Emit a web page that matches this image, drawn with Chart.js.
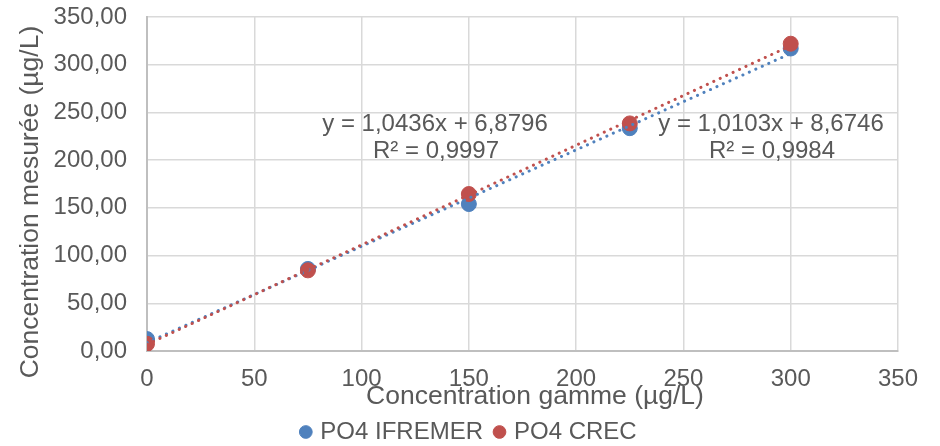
<!DOCTYPE html>
<html>
<head>
<meta charset="utf-8">
<script src="https://cdn.jsdelivr.net/npm/chart.js@4"></script>
<style>
  html, body { margin: 0; padding: 0; background: #fff; }
  #wrap { width: 940px; height: 446px; }
</style>
</head>
<body>
<div id="wrap"><canvas id="chart"></canvas></div>
<script>
// values
const gamme = [0, 75, 150, 225, 300];
const ifremer = [12.5, 86, 154, 233.5, 317];
const crec = [7.5, 84.5, 164.5, 238.5, 322];
const xTicks = [0, 50, 100, 150, 200, 250, 300, 350];
const yTicks = [0, 50, 100, 150, 200, 250, 300, 350];

// trendline coefficients shown in the chart
const trendIfremer = { a: 1.0103, b: 8.6746, r2: 0.9984 };
const trendCrec = { a: 1.0436, b: 6.8796, r2: 0.9997 };

const BLUE = '#4F81BD';
const RED = '#C0504D';
const TEXT = '#595959';
const FONT = '"Liberation Sans", Arial, sans-serif';

function fr(v, d) { return v.toFixed(d).replace('.', ','); }
function pts(xs, ys) { return xs.map((x, i) => ({ x: x, y: ys[i] })); }
function trend(t) {
    const x0 = gamme[0], x1 = gamme[gamme.length - 1];
    return [{ x: x0, y: t.a * x0 + t.b }, { x: x1, y: t.a * x1 + t.b }];
}

// axis titles + trendline equations, positioned like the Excel chart
const labelsPlugin = {
    id: 'excelLabels',
    afterDraw(chart) {
        const c = chart.ctx;
        c.save();
        c.fillStyle = TEXT;
        c.textAlign = 'center';
        c.textBaseline = 'middle';
        c.font = '26.5px ' + FONT;
        c.fillText('Concentration gamme (µg/L)', 535, 397);
        c.save();
        c.translate(31, 202);
        c.rotate(-Math.PI / 2);
        c.fillText('Concentration mesurée (µg/L)', 0, 0);
        c.restore();
        c.font = '24px ' + FONT;
        c.fillText('y = ' + fr(trendCrec.a, 4) + 'x + ' + fr(trendCrec.b, 4), 435, 124);
        c.fillText('R² = ' + fr(trendCrec.r2, 4), 436, 151);
        c.fillText('y = ' + fr(trendIfremer.a, 4) + 'x + ' + fr(trendIfremer.b, 4), 771, 124);
        c.fillText('R² = ' + fr(trendIfremer.r2, 4), 772, 151);
        c.restore();
    }
};

new Chart(document.getElementById('chart'), {
    type: 'scatter',
    data: {
        datasets: [
            {
                label: 'PO4 IFREMER',
                data: pts(gamme, ifremer),
                backgroundColor: BLUE,
                borderColor: BLUE,
                pointRadius: 7.5,
                pointHoverRadius: 7.5,
                order: 3
            },
            {
                label: 'PO4 CREC',
                data: pts(gamme, crec),
                backgroundColor: RED,
                borderColor: RED,
                pointRadius: 7.5,
                pointHoverRadius: 7.5,
                order: 2
            },
            {
                label: 'trend IFREMER',
                type: 'line',
                data: trend(trendIfremer),
                borderColor: BLUE,
                borderWidth: 3,
                borderDash: [0.1, 7],
                borderCapStyle: 'round',
                pointRadius: 0,
                fill: false,
                order: 1
            },
            {
                label: 'trend CREC',
                type: 'line',
                data: trend(trendCrec),
                borderColor: RED,
                borderWidth: 3,
                borderDash: [0.1, 7],
                borderCapStyle: 'round',
                pointRadius: 0,
                fill: false,
                order: 0
            }
        ]
    },
    options: {
        responsive: true,
        maintainAspectRatio: false,
        animation: false,
        layout: { padding: { top: 17, right: 0, left: 0, bottom: -8 } },
        plugins: {
            tooltip: { enabled: false },
            legend: {
                position: 'bottom',
                labels: {
                    filter: (item) => item.text.indexOf('trend') !== 0,
                    sort: (a, b) => a.datasetIndex - b.datasetIndex,
                    usePointStyle: true,
                    pointStyle: 'circle',
                    boxWidth: 5,
                    boxHeight: 9,
                    padding: 14,
                    color: TEXT,
                    font: { family: FONT, size: 24 }
                }
            }
        },
        scales: {
            x: {
                type: 'linear',
                min: xTicks[0],
                max: xTicks[xTicks.length - 1],
                afterBuildTicks: (s) => { s.ticks = xTicks.map(v => ({ value: v })); },
                afterFit: (s) => { s.height = 55; s.paddingRight = 42; s.paddingLeft = 0; },
                ticks: { color: TEXT, font: { family: FONT, size: 24 }, padding: 14, maxRotation: 0 },
                grid: { color: '#D9D9D9', lineWidth: 1.5, drawTicks: false },
                border: { color: '#BFBFBF', width: 2 }
            },
            y: {
                type: 'linear',
                min: yTicks[0],
                max: yTicks[yTicks.length - 1],
                afterBuildTicks: (s) => { s.ticks = yTicks.map(v => ({ value: v })); },
                afterFit: (s) => { s.width = 147; s.paddingTop = 0; s.paddingBottom = 0; },
                ticks: {
                    color: TEXT,
                    font: { family: FONT, size: 24 },
                    padding: 20,
                    callback: (v) => fr(v, 2)
                },
                grid: { color: '#D9D9D9', lineWidth: 1.5, drawTicks: false },
                border: { color: '#BFBFBF', width: 2 }
            }
        }
    },
    plugins: [labelsPlugin]
});
</script>
</body>
</html>
